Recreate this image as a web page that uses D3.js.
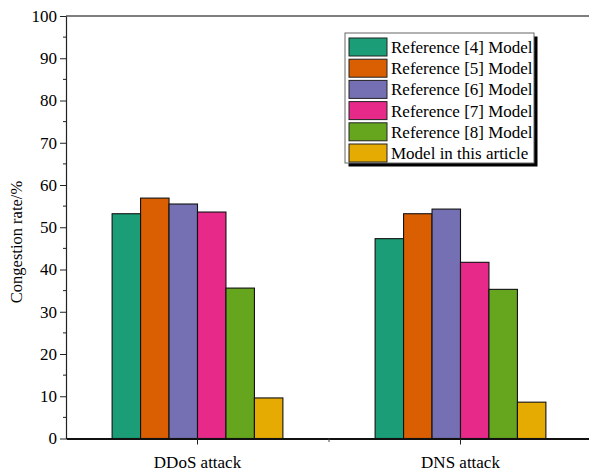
<!DOCTYPE html>
<html>
<head>
<meta charset="utf-8">
<script src="https://cdn.jsdelivr.net/npm/d3@7"></script>
<style>
  html, body { margin: 0; padding: 0; background: #fff; }
  svg { display: block; }
  text { font-family: "Liberation Serif", "Times New Roman", serif; fill: #000; }
</style>
</head>
<body>
<svg id="chart" width="589" height="473"></svg>
<script>
// Attack scenarios along the x axis
const categories = ["DDoS attack", "DNS attack"];
// Models being compared (legend order)
const models = [
  "Reference [4] Model",
  "Reference [5] Model",
  "Reference [6] Model",
  "Reference [7] Model",
  "Reference [8] Model",
  "Model in this article"
];
// Congestion rate (%) per model, one array per attack scenario
const ddosValues = [53.2, 56.9, 55.5, 53.6, 35.6, 9.6];
const dnsValues  = [47.3, 53.2, 54.3, 41.7, 35.3, 8.6];
const yTicks = [0, 10, 20, 30, 40, 50, 60, 70, 80, 90, 100];
const colors = ["#1b9e77", "#d95f02", "#7570b3", "#e7298a", "#66a61e", "#e6ab02"];

const seriesByCategory = { "DDoS attack": ddosValues, "DNS attack": dnsValues };

const svg = d3.select("#chart");
const plotLeft = 66, plotTop = 16, plotBottom = 438.5, plotRight = 592;

const x0 = d3.scaleBand().domain(categories).range([plotLeft, plotRight]).paddingInner(0).paddingOuter(0);
const x1 = d3.scaleBand().domain(models).range([0, x0.bandwidth()]).paddingInner(0).paddingOuter(1.62);
const y = d3.scaleLinear().domain([0, 100]).range([plotBottom, plotTop]);
const color = d3.scaleOrdinal().domain(models).range(colors);

// Bars
const groups = svg.append("g").selectAll("g")
  .data(categories).join("g")
  .attr("transform", d => `translate(${x0(d)},0)`);

groups.selectAll("rect")
  .data(c => models.map((m, i) => ({ model: m, value: seriesByCategory[c][i] })))
  .join("rect")
  .attr("x", d => x1(d.model))
  .attr("y", d => y(d.value))
  .attr("width", x1.bandwidth())
  .attr("height", d => y(0) - y(d.value))
  .attr("fill", d => color(d.model))
  .attr("stroke", "#111")
  .attr("stroke-width", 1.1);

// Top frame line
svg.append("line")
  .attr("x1", plotLeft).attr("x2", 589)
  .attr("y1", y(100)).attr("y2", y(100))
  .attr("stroke", "#000").attr("stroke-width", 1.2);

// Y axis with major and minor ticks
const yAxis = svg.append("g").attr("transform", `translate(${plotLeft},0)`)
  .call(d3.axisLeft(y).tickValues(yTicks).tickSize(6).tickPadding(3).tickSizeOuter(0));
yAxis.select(".domain").attr("stroke", "#222").attr("stroke-width", 1.2);
yAxis.selectAll(".tick line").attr("stroke", "#222");
yAxis.selectAll(".tick text").style("font-size", "17px").style("font-family", "Liberation Serif");

const yMinor = d3.range(5, 100, 10);
svg.append("g").selectAll("line").data(yMinor).join("line")
  .attr("x1", plotLeft - 3).attr("x2", plotLeft)
  .attr("y1", d => y(d)).attr("y2", d => y(d))
  .attr("stroke", "#222");

// X axis
const xAxis = svg.append("g").attr("transform", `translate(0,${plotBottom})`)
  .call(d3.axisBottom(x0).tickSize(6).tickPadding(11).tickSizeOuter(0));
xAxis.select(".domain").attr("stroke", "#111").attr("stroke-width", 2);
xAxis.selectAll(".tick line").attr("stroke", "#222");
xAxis.selectAll(".tick text").style("font-size", "17px").style("font-family", "Liberation Serif");

// Minor tick between the two category groups
svg.append("line")
  .attr("x1", x0("DNS attack")).attr("x2", x0("DNS attack"))
  .attr("y1", plotBottom).attr("y2", plotBottom + 3.5)
  .attr("stroke", "#444");

// Y axis title
svg.append("text")
  .attr("transform", `translate(22,242) rotate(-90)`)
  .attr("text-anchor", "middle")
  .style("font-size", "16.5px")
  .text("Congestion rate/%");

// Legend
const lgX = 345, lgY = 33, lgW = 189, lgH = 130, rowH = 21.2;
const legend = svg.append("g");
legend.append("rect")
  .attr("x", lgX + 3.5).attr("y", lgY + 3.5).attr("width", lgW).attr("height", lgH)
  .attr("fill", "#000");
legend.append("rect")
  .attr("x", lgX).attr("y", lgY).attr("width", lgW).attr("height", lgH)
  .attr("fill", "#fff").attr("stroke", "#666").attr("stroke-width", 1);

const items = legend.selectAll("g.item").data(models).join("g")
  .attr("class", "item")
  .attr("transform", (d, i) => `translate(${lgX + 4},${lgY + 5 + i * rowH})`);
items.append("rect")
  .attr("width", 38).attr("height", 18)
  .attr("fill", d => color(d))
  .attr("stroke", "#222").attr("stroke-width", 1);
items.append("text")
  .attr("x", 42).attr("y", 15)
  .style("font-size", "17px")
  .text(d => d);
</script>
</body>
</html>
